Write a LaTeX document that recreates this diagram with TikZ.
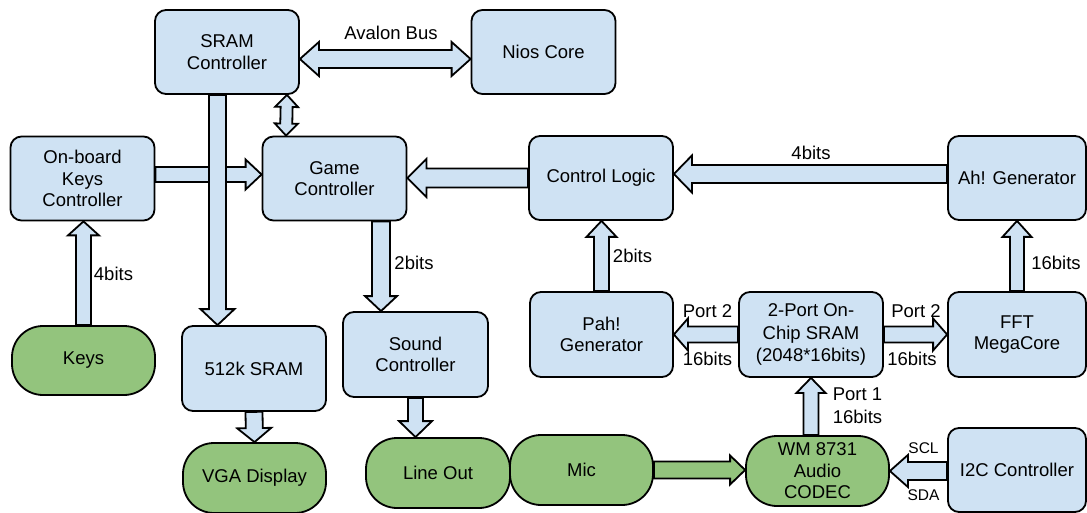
\documentclass[tikz,border=0pt]{standalone}
\usepackage{fontspec}
\setmainfont{Liberation Sans}
\usetikzlibrary{positioning, calc}
\definecolor{boxblue}{HTML}{CFE2F3}
\definecolor{termgreen}{HTML}{93C47D}
\newcommand{\fapt}[4]{({#1+(\n2)*(#3)-(\n3)*(#4)},{#2+(\n3)*(#3)+(\n2)*(#4)})}
\tikzset{
  block/.style={rectangle, draw, fill=boxblue, line width=1.8pt, rounded corners=11pt,
    minimum width=144pt, minimum height=84pt, align=center, inner sep=2pt,
    font=\fontsize{18.5}{21.5}\selectfont},
  term/.style={block, fill=termgreen, rounded corners=31pt, minimum height=70pt},
  lbl/.style={inner sep=0pt, font=\fontsize{18.5}{21.5}\selectfont},
  small/.style={inner sep=0pt, font=\fontsize{15.5}{18}\selectfont},
  fatw/.store in=\fatw, fath/.store in=\fath, fatl/.store in=\fatl,
  fatw=8pt, fath=16pt, fatl=16pt,
  fat/.style={draw, fill=boxblue, line width=1.8pt, line join=miter,
    to path={let \p1=(\tikztostart), \p2=(\tikztotarget),
      \n1={veclen(\x2-\x1,\y2-\y1)}, \n2={(\x2-\x1)/\n1}, \n3={(\y2-\y1)/\n1} in
      \fapt{\x1}{\y1}{0pt}{\fatw} -- \fapt{\x2}{\y2}{-\fatl}{\fatw}
      -- \fapt{\x2}{\y2}{-\fatl}{\fath} -- (\x2,\y2)
      -- \fapt{\x2}{\y2}{-\fatl}{-\fath} -- \fapt{\x2}{\y2}{-\fatl}{-\fatw}
      -- \fapt{\x1}{\y1}{0pt}{-\fatw} -- cycle}},
  fatboth/.style={fat,
    to path={let \p1=(\tikztostart), \p2=(\tikztotarget),
      \n1={veclen(\x2-\x1,\y2-\y1)}, \n2={(\x2-\x1)/\n1}, \n3={(\y2-\y1)/\n1} in
      (\x1,\y1) -- \fapt{\x1}{\y1}{\fatl}{\fath} -- \fapt{\x1}{\y1}{\fatl}{\fatw}
      -- \fapt{\x2}{\y2}{-\fatl}{\fatw} -- \fapt{\x2}{\y2}{-\fatl}{\fath} -- (\x2,\y2)
      -- \fapt{\x2}{\y2}{-\fatl}{-\fath} -- \fapt{\x2}{\y2}{-\fatl}{-\fatw}
      -- \fapt{\x1}{\y1}{\fatl}{-\fatw} -- \fapt{\x1}{\y1}{\fatl}{-\fath} -- cycle}},
}

\begin{document}
\begin{tikzpicture}[x=1pt, y=-1pt]
\useasboundingbox (0,0) rectangle (1087,513);

% top row
\node[block] (sramctl) at (227,52) {SRAM\\Controller};
\node[block] (nios) at (543.5,52) {Nios Core};
\node[block] (keysctl) at (82.5,178.5) {On-board\\Keys\\Controller};
\node[block] (game) at (334.5,178.5) {Game\\Controller};
\node[block] (control) at (601,178) {Control Logic};
\node[block, minimum width=138pt] (ahgen) at (1017,178) {Ah! Generator};

% middle row
\node[term, minimum width=143pt, minimum height=69pt] (keys) at (83.5,360.5) {Keys};
\node[block, minimum height=85pt] (ram512) at (254,368.5) {512k SRAM};
\node[block, minimum width=145pt, minimum height=85pt] (sound) at (415.5,354.5) {Sound\\Controller};
\node[block, minimum width=143pt, minimum height=85pt] (pah) at (601.5,334.5) {Pah!\\Generator};
\node[block, minimum height=85pt, font=\fontsize{18.5}{22.5}\selectfont] (twoport) at (811,334.5) {2-Port On-\\Chip SRAM\\(2048*16bits)};
\node[block, minimum width=138pt, minimum height=85pt] (fft) at (1017,334.5) {FFT\\MegaCore};

% bottom row
\node[term, minimum width=143pt] (vga) at (254.5,478) {VGA Display};
\node[term] (lineout) at (438,473) {Line Out};
\node[term, minimum width=143pt] (mic) at (581.5,470) {Mic};
\node[term, minimum width=143pt] (codec) at (817.5,471) {WM 8731\\Audio\\CODEC};
\node[block, minimum width=138pt] (i2c) at (1017,470) {I2C Controller};

% connectors
\path ([yshift=-7pt]sramctl.east) edge[fatboth, fatw=9pt, fath=17pt, fatl=19pt] ([yshift=-7pt]nios.west)
      ([xshift=-13pt]sramctl.south east) edge[fatboth, fatw=6pt, fath=11.5pt, fatl=12pt] ([xshift=-48.5pt]game.north)
      ([yshift=4pt]keysctl.east) edge[fat, fatw=7.5pt, fath=15pt] ([yshift=4pt]game.west)
      ([xshift=-9.5pt]sramctl.south) edge[fat, fatw=8.5pt, fath=17pt] ([xshift=-36.5pt]ram512.north)
      (control.west) edge[fat, fatw=9.5pt, fath=19pt, fatl=19pt] (control.west -| game.east)
      ([yshift=4pt]ahgen.west) edge[fat, fatw=9pt, fath=18.5pt, fatl=18pt] ([yshift=4pt]control.east)
      (keys.north) edge[fat, fatw=7.5pt, fath=15.5pt, fatl=14pt] (keys.north |- keysctl.south)
      ([xshift=46.5pt]game.south) edge[fat, fatw=9pt, fatl=15pt] ([xshift=-34.5pt]sound.north)
      (pah.north) edge[fat, fatw=7.5pt, fath=15pt] (pah.north |- control.south)
      (fft.north) edge[fat, fatw=7pt, fath=14.5pt] (ahgen.south)
      (twoport.west) edge[fat, fatl=14pt] (pah.east)
      (twoport.east) edge[fat, fatl=14pt] (fft.west)
      (twoport.south |- codec.north) edge[fat, fatw=7.5pt, fath=14.5pt, fatl=15pt] (twoport.south)
      (ram512.south) edge[fat, fatw=8.5pt, fath=17pt, fatl=14pt] (vga.north)
      (sound.south) edge[fat, fatw=7.5pt, fath=16.5pt] (sound.south |- lineout.north)
      (mic.east) edge[fat, fill=termgreen, fatw=8.5pt, fath=14.5pt, fatl=15pt] (mic.east -| codec.west)
      (i2c.west |- codec.east) edge[fat, fatw=9pt, fatl=18pt] (codec.east);

% labels
\node[lbl] (avalon) at (391,33) {Avalon Bus};
\node[lbl] (ahbits) at (811,153) {4bits};
\node[lbl] (keybits) at (113.5,274) {4bits};
\node[lbl] (soundbits) at (414,263) {2bits};
\node[lbl] (pahbits) at (632.5,256) {2bits};
\node[lbl] (fftbits) at (1056,263) {16bits};
\node[lbl] (portl) at (707.5,311) {Port 2};
\node[lbl] (bitsl) at (707.5,359) {16bits};
\node[lbl] (portr) at (916,311) {Port 2};
\node[lbl] (bitsr) at (912,359) {16bits};
\node[lbl] (portone) at (857.5,394) {Port 1};
\node[lbl] (bitsone) at (857.5,417) {16bits};
\node[small] (scl) at (923.5,448) {SCL};
\node[small] (sda) at (923.5,495) {SDA};
\end{tikzpicture}
\end{document}
